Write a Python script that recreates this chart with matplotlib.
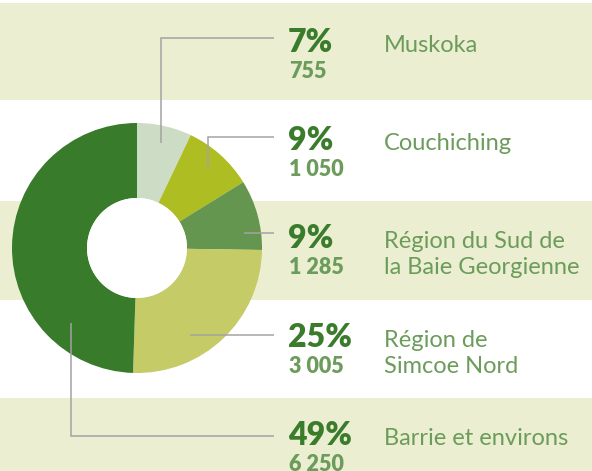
import matplotlib
matplotlib.use("Agg")
import matplotlib.pyplot as plt
from matplotlib.patches import Rectangle, Circle

# ---- data ----
regions = ["Muskoka", "Couchiching", "Région du Sud de\nla Baie Georgienne",
           "Région de\nSimcoe Nord", "Barrie et environs"]
percents = [7, 9, 9, 25, 49]
counts = ["755", "1 050", "1 285", "3 005", "6 250"]
colors = ["#cddcc5", "#adbd22", "#64964f", "#c4cb67", "#377b2b"]

# ---- layout (pixel space) ----
W, H = 592, 471
fig = plt.figure(figsize=(W / 100, H / 100), dpi=100)
ax = fig.add_axes([0, 0, 1, 1])

band_color = "#ebeed1"
bands = [(3, 100), (201, 300), (398, 471)]
for y0, y1 in bands:
    ax.add_patch(Rectangle((0, y0), W, y1 - y0, color=band_color, lw=0, zorder=0))

cx, cy, R = 137, 248, 125
hole = 0.4
wedges, _ = ax.pie(percents, colors=colors, startangle=-90, counterclock=True,
                   center=(cx, cy), radius=R,
                   wedgeprops=dict(width=R * (1 - hole), linewidth=0))
for w in wedges:
    w.set_zorder(2)
ax.add_patch(Circle((cx, cy), R * hole, color="white", lw=0, zorder=2.5))

ax.set_xlim(0, W)
ax.set_ylim(H, 0)
ax.set_aspect("auto")
ax.axis("off")

# leader lines: (anchor x, anchor y, elbow y)
anchors = [(161, 143, 38), (208, 169, 137), (243.5, 232.5, 232.5),
           (190, 335, 335), (71, 323, 436)]
line_end = 274
for ax_, ay, ey in anchors:
    ax.plot([ax_, ax_, line_end], [ay, ey, ey], color="#a3a3a3", lw=1.1,
            zorder=3, solid_capstyle="butt", solid_joinstyle="miter")

row_base = [52, 150, 248, 347, 445]
pct_color = "#3a7c2c"
num_color = "#6c9c5b"
lab_color = "#6c9c5b"
for yb, p, c, lab in zip(row_base, percents, counts, regions):
    ax.text(288, yb, f"{p}%", fontsize=23, fontweight="heavy", color=pct_color,
            family="Lato", va="baseline", ha="left", zorder=4)
    ax.text(289, yb + 26, c, fontsize=15.5, fontweight="heavy", color=num_color,
            family="Lato", va="baseline", ha="left", zorder=4)
    for i, line in enumerate(lab.split("\n")):
        ax.text(384, yb + 26 * i, line, fontsize=17, color=lab_color, family="Lato",
                va="baseline", ha="left", zorder=4)

fig.savefig("out.png", dpi=100)
